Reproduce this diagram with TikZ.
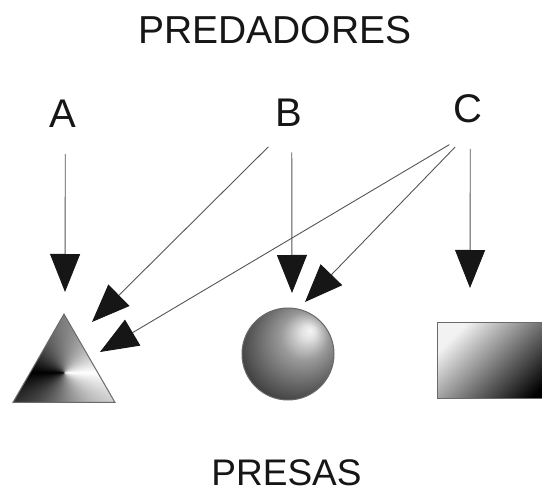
\documentclass[tikz,border=0pt]{standalone}
\usepackage{fontspec}
\setmainfont{Liberation Sans}
\usepackage{tikz}
\usetikzlibrary{positioning,shapes.geometric,arrows.meta,shadings}
\definecolor{ink}{HTML}{161616}
\definecolor{wire}{HTML}{555555}
\definecolor{rim}{HTML}{6A6A6A}
\definecolor{pale}{HTML}{F2F2F2}
% angular grey for the triangle, centred on its centroid
\pgfdeclarefunctionalshading{cone}{\pgfpoint{-50bp}{-50bp}}{\pgfpoint{50bp}{50bp}}{}{
  8 add exch 0.0013 add atan
  dup 180 gt {180 sub 180 div}{180 div 1 exch sub} ifelse
  dup dup}
\pgfdeclareradialshading{sphere}{\pgfpoint{12bp}{13bp}}{
  rgb(0bp)=(0.96,0.96,0.96); rgb(4bp)=(0.88,0.88,0.88);
  rgb(13bp)=(0.6,0.6,0.6); rgb(31bp)=(0.26,0.26,0.26);
  rgb(50bp)=(0.22,0.22,0.22)}
\tikzset{
  ttl/.style={font=\fontsize{39}{39}\selectfont,text=ink,inner sep=0pt},
  lbl/.style={circle,minimum size=80pt,inner sep=0pt,outer sep=0pt,
    font=\fontsize{40}{40}\selectfont,text=ink},
  prey/.style={draw=rim,line width=1pt,inner sep=0pt,outer sep=0pt},
  fl/.style={-{Triangle[length=38pt,width=30pt,color=ink]},draw=wire,line width=0.9pt},
}
\begin{document}
\begin{tikzpicture}[x=1pt,y=-1pt]
  \useasboundingbox (0,0) rectangle (542,492);
  \clip (0,0) rectangle (542,492);
  \node[ttl] (pred) at (275,30) {PREDADORES};
  \node[lbl] (a) at (62.5,114) {A};
  \node[lbl] (b) at (289,112.5) {B};
  \node[lbl] (c) at (467.5,109) {C};
  \node[prey,regular polygon,regular polygon sides=3,minimum size=117.8pt,shading=cone] (tri) at (64,373) {};
  \node[prey,circle,minimum size=92pt,shading=sphere] (ball) at (288,354) {};
  \node[prey,rectangle,minimum width=123pt,minimum height=76pt,
    top color=pale,bottom color=black,shading angle=45] (box) at (498.5,361) {};
  \node[ttl,font=\fontsize{37}{37}\selectfont] (pres) at (286.5,472.5) {PRESAS};
  % arrow tips just short of the prey
  \coordinate (ta) at (65,292);
  \coordinate (tb1) at (92,322); \coordinate (tb2) at (292,293);
  \coordinate (tc1) at (100,352); \coordinate (tc2) at (305,302); \coordinate (tc3) at (470,288);
  \draw[fl] (a.274) -- (ta);
  \draw[fl] (b.239) -- (tb1); \draw[fl] (b.274) -- (tb2);
  \draw[fl] (c.243) -- (tc1); \draw[fl] (c.252) -- (tc2); \draw[fl] (c.274) -- (tc3);
\end{tikzpicture}
\end{document}
